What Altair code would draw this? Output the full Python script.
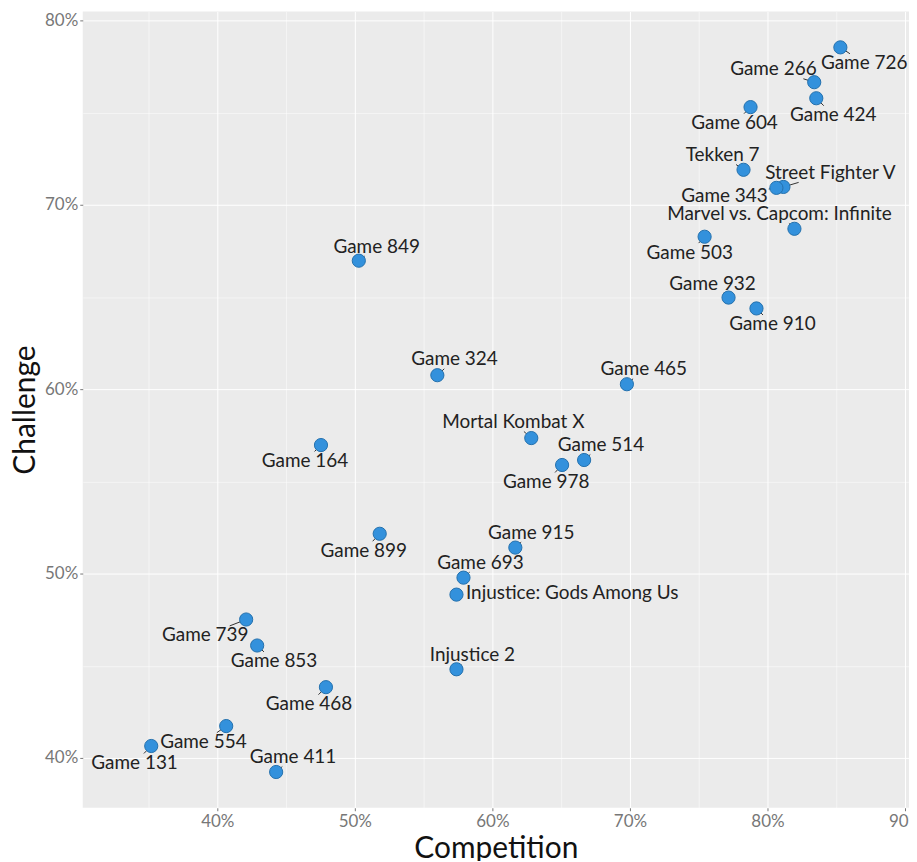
import altair as alt
import pandas as pd

names = ["Game 726", "Game 266", "Game 424", "Game 604", "Tekken 7", "Street Fighter V",
         "Game 343", "Marvel vs. Capcom: Infinite", "Game 503", "Game 932", "Game 910",
         "Game 465", "Game 849", "Game 324", "Mortal Kombat X", "Game 514", "Game 978",
         "Game 164", "Game 899", "Game 915", "Game 693", "Injustice: Gods Among Us",
         "Injustice 2", "Game 739", "Game 853", "Game 468", "Game 554", "Game 131", "Game 411"]

competition = [0.853, 0.834, 0.8355, 0.7877, 0.7826, 0.8116,
               0.8065, 0.8196, 0.7543, 0.7717, 0.792,
               0.6978, 0.5029, 0.560, 0.6283, 0.6667, 0.6507,
               0.4754, 0.5181, 0.6167, 0.579, 0.5739,
               0.5739, 0.421, 0.429, 0.479, 0.4065, 0.352, 0.4428]

challenge = [0.7854, 0.7665, 0.7578, 0.753, 0.719, 0.7097,
             0.7092, 0.687, 0.6827, 0.6497, 0.6438,
             0.6027, 0.6697, 0.6076, 0.5735, 0.5616, 0.5589,
             0.5697, 0.5216, 0.5141, 0.4978, 0.4886,
             0.4481, 0.4751, 0.461, 0.4384, 0.4173, 0.4065, 0.3924]

# label anchor positions (repelled), in data units
label_x = [0.8703, 0.8043, 0.8478, 0.7761, 0.7674, 0.8457,
           0.7688, 0.8087, 0.7435, 0.7601, 0.8036,
           0.7101, 0.5159, 0.5725, 0.6152, 0.679, 0.6391,
           0.4638, 0.5065, 0.6283, 0.5913, 0.658,
           0.5855, 0.3913, 0.4413, 0.4667, 0.3899, 0.3399, 0.4551]
label_y = [0.7768, 0.7735, 0.7486, 0.7443, 0.727, 0.7173,
           0.7049, 0.6951, 0.6741, 0.6573, 0.6351,
           0.6108, 0.6773, 0.6162, 0.5822, 0.5697, 0.5497,
           0.5611, 0.5124, 0.5222, 0.5059, 0.4892,
           0.4557, 0.4665, 0.4524, 0.4292, 0.4086, 0.3973, 0.4005]

x_domain = [0.3022, 0.9029]
y_domain = [0.373, 0.8049]
W, H = 829, 799
LABEL_SIZE = 19

# segment from point to the edge of the label box (ggrepel style)
sx = W / (x_domain[1] - x_domain[0])
sy = H / (y_domain[1] - y_domain[0])
seg_rows = []
for n, px, py, lx, ly in zip(names, competition, challenge, label_x, label_y):
    dx = (px - lx) * sx
    dy = (py - ly) * sy
    hw = len(n) * LABEL_SIZE * 0.285 + 1
    hh = LABEL_SIZE * 0.5
    ts = []
    if abs(dx) > 1e-9:
        ts.append(hw / abs(dx))
    if abs(dy) > 1e-9:
        ts.append(hh / abs(dy))
    t = min(ts) if ts else 1.0
    if t < 1.0:
        ex = lx + (px - lx) * t
        ey = ly + (py - ly) * t
        seg_rows.append({"x": px, "y": py, "x2": ex, "y2": ey})

df = pd.DataFrame({"name": names, "competition": competition, "challenge": challenge,
                   "lx": label_x, "ly": label_y})
seg = pd.DataFrame(seg_rows)

x_ticks = [round(0.35 + 0.05 * i, 2) for i in range(12)]
y_ticks = [round(0.40 + 0.05 * i, 2) for i in range(9)]
lab_expr = "round(datum.value*100) % 10 == 0 ? format(datum.value, '.0%') : ''"
major = "round(datum.value*100) % 10 == 0"

x_scale = alt.Scale(domain=x_domain, nice=False, zero=False)
y_scale = alt.Scale(domain=y_domain, nice=False, zero=False)

x_axis = alt.Axis(title="Competition", values=x_ticks, labelExpr=lab_expr,
                  gridColor="white",
                  gridWidth={"condition": {"test": major, "value": 1}, "value": 0.5},
                  tickOpacity={"condition": {"test": major, "value": 1}, "value": 0},
                  tickColor="#777", tickSize=3, labelPadding=3, domain=False,
                  labelFontSize=17, labelColor="#777", titleFontSize=30,
                  titleColor="#111", titlePadding=4, titleFontWeight="normal")
y_axis = alt.Axis(title="Challenge", values=y_ticks, labelExpr=lab_expr,
                  gridColor="white",
                  gridWidth={"condition": {"test": major, "value": 1}, "value": 0.5},
                  tickOpacity={"condition": {"test": major, "value": 1}, "value": 0},
                  tickColor="#777", tickSize=3, labelPadding=2, domain=False,
                  labelFontSize=17, labelColor="#777", titleFontSize=30,
                  titleColor="#111", titlePadding=4, titleFontWeight="normal")

base = alt.Chart(df)

segments = alt.Chart(seg).mark_rule(color="#333", strokeWidth=1).encode(
    x=alt.X("x:Q", scale=x_scale, axis=x_axis),
    y=alt.Y("y:Q", scale=y_scale, axis=y_axis),
    x2="x2:Q", y2="y2:Q")

points = base.mark_circle(size=175, opacity=1, color="#3391dc",
                          stroke="#2470ad", strokeWidth=1).encode(
    x=alt.X("competition:Q", scale=x_scale, axis=x_axis),
    y=alt.Y("challenge:Q", scale=y_scale, axis=y_axis))

labels = base.mark_text(font="Lato", fontSize=LABEL_SIZE, color="#222",
                        align="center", baseline="middle").encode(
    x=alt.X("lx:Q", scale=x_scale, axis=x_axis),
    y=alt.Y("ly:Q", scale=y_scale, axis=y_axis),
    text="name:N")

chart = alt.layer(segments, points, labels).properties(
    width=W, height=H,
    autosize=alt.AutoSizeParams(type="none"),
    padding={"left": 75, "top": 2, "right": 0, "bottom": 52},
).configure_view(fill="#ebebeb", strokeWidth=0).configure_axis(
    labelFont="Lato", titleFont="Lato")

chart.save("out.html", embed_options={"renderer": "svg", "actions": False})
